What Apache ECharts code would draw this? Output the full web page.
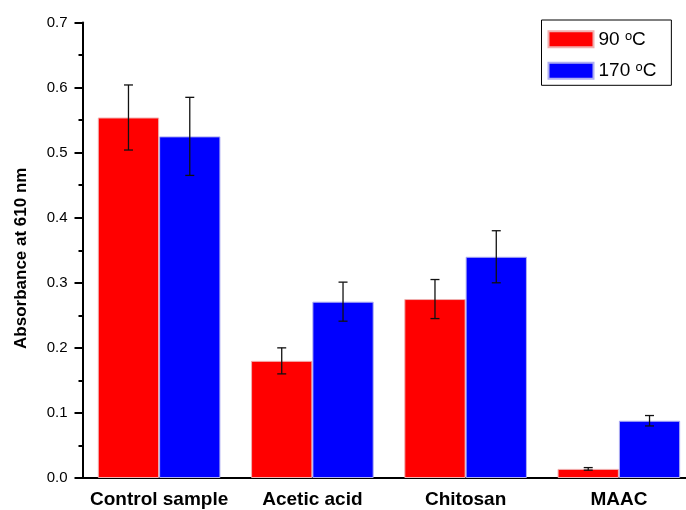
<!DOCTYPE html>
<html>
<head>
<meta charset="utf-8">
<script src="https://cdn.jsdelivr.net/npm/echarts@6/dist/echarts.min.js"></script>
<style>html,body{margin:0;padding:0;background:#fff;overflow:hidden;width:686px;height:510px;}#c{width:700px;height:510px;}</style>
</head>
<body>
<div id="c"></div>
<script>
var categories = ['Control sample', 'Acetic acid', 'Chitosan', 'MAAC'];
var seriesNames = ['90 ᵒC', '170 ᵒC'];
var values90 = [0.554, 0.180, 0.275, 0.014];
var errors90 = [0.050, 0.020, 0.030, 0.002];
var values170 = [0.525, 0.271, 0.340, 0.088];
var errors170 = [0.060, 0.030, 0.040, 0.008];
var yTicks = [0, 0.1, 0.2, 0.3, 0.4, 0.5, 0.6, 0.7];

var FONT = "'Liberation Sans', Arial, sans-serif";

function errData(vals, errs) {
  return categories.map(function (c, i) { return [i, vals[i] - errs[i], vals[i] + errs[i]]; });
}
function errRender(offsetFrac) {
  return function (params, api) {
    var x = api.value(0);
    var lo = api.coord([x, api.value(1)]);
    var hi = api.coord([x, api.value(2)]);
    var band = api.size([1, 0])[0];
    var cx = lo[0] + offsetFrac * band;
    var hw = 4.5;
    var st = { stroke: '#111', lineWidth: 1.3 };
    return {
      type: 'group',
      children: [
        { type: 'line', shape: { x1: cx, y1: lo[1], x2: cx, y2: hi[1] }, style: st },
        { type: 'line', shape: { x1: cx - hw, y1: lo[1], x2: cx + hw, y2: lo[1] }, style: st },
        { type: 'line', shape: { x1: cx - hw, y1: hi[1], x2: cx + hw, y2: hi[1] }, style: st }
      ]
    };
  };
}

var chart = echarts.init(document.getElementById('c'), null, { renderer: 'canvas' });
chart.setOption({
  backgroundColor: '#fff',
  animation: false,
  textStyle: { fontFamily: FONT },
  grid: { left: 82.5, top: 22.5, width: 613, height: 455.5, containLabel: false },
  legend: {
    orient: 'vertical',
    left: 541.5,
    top: 20,
    padding: [9.8, 15, 5.1, 6],
    itemWidth: 45,
    itemHeight: 16,
    itemGap: 12.4,
    icon: 'rect',
    borderColor: '#000',
    borderWidth: 1,
    data: seriesNames,
    textStyle: { fontFamily: FONT, fontSize: 19, color: '#000', lineHeight: 16 }
  },
  xAxis: [{
    type: 'category',
    data: categories,
    axisLine: { lineStyle: { color: '#000', width: 2 } },
    axisTick: { alignWithLabel: true, length: 8, lineStyle: { color: '#000', width: 2 } },
    axisLabel: { interval: 0, fontFamily: FONT, fontSize: 19, fontWeight: 'bold', color: '#000', margin: 12 },
    splitLine: { show: false }
  }, {
    type: 'category',
    data: categories,
    position: 'bottom',
    axisLine: { show: false },
    axisTick: { interval: 0, alignWithLabel: false, length: 4, lineStyle: { color: '#000', width: 2 } },
    axisLabel: { show: false },
    splitLine: { show: false }
  }],
  yAxis: {
    type: 'value',
    min: 0,
    max: 0.7,
    interval: 0.1,
    name: 'Absorbance at 610 nm',
    nameLocation: 'middle',
    nameGap: 53,
    nameTextStyle: { fontFamily: FONT, fontSize: 17, fontWeight: 'bold', color: '#000', padding: [0, 16, 0, 0] },
    axisLine: { show: true, lineStyle: { color: '#000', width: 2 } },
    axisTick: { show: true, length: 8, lineStyle: { color: '#000', width: 2 } },
    minorTick: { show: true, splitNumber: 2, length: 4, lineStyle: { color: '#000', width: 2 } },
    splitLine: { show: false },
    axisLabel: {
      fontFamily: FONT, fontSize: 15, color: '#000', margin: 15,
      formatter: function (v) {
        for (var i = 0; i < yTicks.length; i++) { if (Math.abs(yTicks[i] - v) < 1e-9) return yTicks[i].toFixed(1); }
        return '';
      }
    }
  },
  series: [{
    name: seriesNames[0],
    type: 'bar',
    data: values90,
    barGap: '0%',
    barCategoryGap: '20%',
    itemStyle: { color: '#ff0000', borderColor: '#f0b0b0', borderWidth: 1 },
    z: 2
  }, {
    name: seriesNames[1],
    type: 'bar',
    data: values170,
    barGap: '0%',
    barCategoryGap: '20%',
    itemStyle: { color: '#0000ff', borderColor: '#b0b0f0', borderWidth: 1 },
    z: 2
  }, {
    type: 'custom',
    renderItem: errRender(-0.2),
    data: errData(values90, errors90),
    encode: { x: 0, y: [1, 2] },
    z: 5,
    silent: true
  }, {
    type: 'custom',
    renderItem: errRender(0.2),
    data: errData(values170, errors170),
    encode: { x: 0, y: [1, 2] },
    z: 5,
    silent: true
  }]
});
</script>
</body>
</html>
